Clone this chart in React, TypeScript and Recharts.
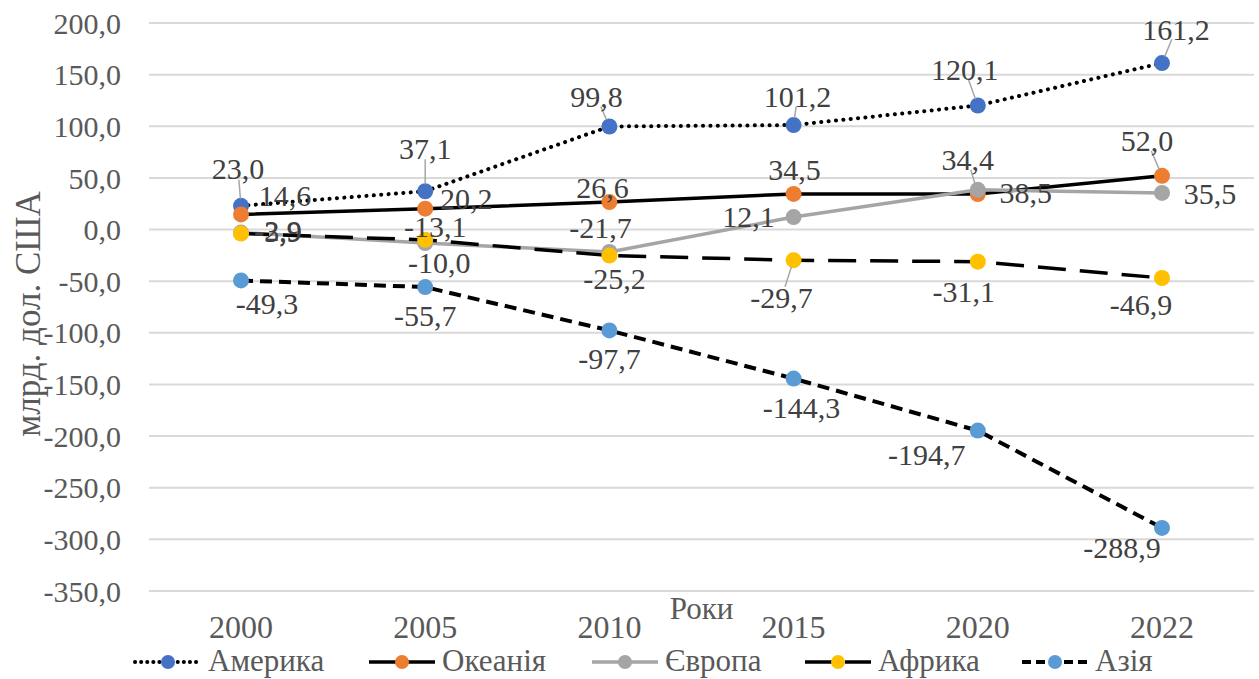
import { CartesianGrid, Label, LabelList, Legend, Line, LineChart, XAxis, YAxis } from 'recharts';

const years = ['2000', '2005', '2010', '2015', '2020', '2022'];
const america = [23.0, 37.1, 99.8, 101.2, 120.1, 161.2];
const oceania = [14.6, 20.2, 26.6, 34.5, 34.4, 52.0];
const europe = [-2.9, -13.1, -21.7, 12.1, 38.5, 35.5];
const africa = [-3.9, -10.0, -25.2, -29.7, -31.1, -46.9];
const asia = [-49.3, -55.7, -97.7, -144.3, -194.7, -288.9];
const yTicks = [200, 150, 100, 50, 0, -50, -100, -150, -200, -250, -300, -350];

const data = years.map((year, i) => ({
  year,
  america: america[i],
  oceania: oceania[i],
  europe: europe[i],
  africa: africa[i],
  asia: asia[i],
}));

const FONT = '"Liberation Serif", "Times New Roman", serif';
const fmt = (v: number) => v.toFixed(1).replace('.', ',');

// label offsets from the point (label centre), hand placed like in the source chart
const americaPos = [[-3, -37], [0, -43], [-13, -30], [4, -29], [-13, -36], [14, -34]];
const oceaniaPos = [[44, -19], [41, -10], [-7, -15], [1, -24], [-10, -35], [-15, -35]];
const europePos = [[37, -2], [10, -17], [-9, -24], [-45, -1], [48, 3], [48, 1]];
const africaPos = [[37, -2], [14, 23], [5, 23], [-12, 37], [-14, 30], [-21, 27]];
const asiaPos = [[26, 23], [0, 28], [0, 28], [8, 29], [-51, 24], [-40, 20]];

const makeLabel = (offsets: number[][], leaders: number[]) => (props: any) => {
  const { x, y, value, index } = props;
  const [dx, dy] = offsets[index];
  let leader = null;
  if (leaders.includes(index)) {
    const d = Math.hypot(dx, dy);
    const ux = dx / d;
    const uy = dy / d;
    leader = (
      <line x1={x + ux * 7} y1={y + uy * 7} x2={x + ux * (d - 11)} y2={y + uy * (d - 11)} stroke="#A6A6A6" strokeWidth={1.5} />
    );
  }
  return (
    <g>
      {leader}
      <text x={x + dx} y={y + dy} textAnchor="middle" dominantBaseline="central" style={{ fontFamily: FONT }} fontSize={30} fill="#404040">
        {fmt(value)}
      </text>
    </g>
  );
};

const series = [
  { key: 'america', name: 'Америка', color: '#4472C4', stroke: '#000', dash: '0.1 7.3', width: 4, cap: 'round', pos: americaPos, leaders: [0, 1, 2, 3, 4, 5] },
  { key: 'oceania', name: 'Океанія', color: '#ED7D31', stroke: '#000', dash: undefined, width: 3.5, cap: 'butt', pos: oceaniaPos, leaders: [4, 5] },
  { key: 'europe', name: 'Європа', color: '#A5A5A5', stroke: '#A5A5A5', dash: undefined, width: 3.5, cap: 'butt', pos: europePos, leaders: [] },
  { key: 'africa', name: 'Африка', color: '#FFC000', stroke: '#000', dash: '28 14', width: 3.5, cap: 'butt', pos: africaPos, leaders: [3] },
  { key: 'asia', name: 'Азія', color: '#5B9BD5', stroke: '#000', dash: '12 7', width: 4, cap: 'butt', pos: asiaPos, leaders: [] },
];

const legendDash: Record<string, string | undefined> = {
  america: '0.1 6',
  oceania: undefined,
  europe: undefined,
  africa: '30 10',
  asia: '9 5',
};
const legendLeft = [133, 367, 590, 803, 1020];

function LegendRow() {
  return (
    <div style={{ position: 'relative', height: 40, width: 1259, fontFamily: FONT, fontSize: 31, color: '#595959' }}>
      {series.map((s, i) => (
        <div key={s.key} style={{ position: 'absolute', left: legendLeft[i], top: 4, display: 'flex', alignItems: 'center', height: 36 }}>
          <svg width={70} height={36}>
            <line x1={2} y1={19} x2={68} y2={19} stroke={s.stroke} strokeWidth={s.width} strokeDasharray={legendDash[s.key]} strokeLinecap={s.cap as any} />
            <circle cx={35} cy={19} r={7} fill={s.color} />
          </svg>
          <span style={{ marginLeft: 5, lineHeight: '36px', whiteSpace: 'nowrap' }}>{s.name}</span>
        </div>
      ))}
    </div>
  );
}

const YTitle = () => (
  <text x={28} y={314} transform="rotate(-90, 28, 314)" textAnchor="middle" dominantBaseline="central" style={{ fontFamily: FONT }} fontSize={35} fill="#595959">
    млрд. дол. США
  </text>
);

export default function App() {
  return (
    <div style={{ width: 1259, height: 679, background: '#fff' }}>
      <style>{`body{margin:0;background:#fff} .recharts-wrapper text{font-family:${FONT}}`}</style>
      <LineChart width={1259} height={679} data={data} margin={{ top: 23, right: 5, bottom: 0, left: 0 }}>
        <CartesianGrid vertical={false} stroke="#D9D9D9" strokeWidth={2} />
        <XAxis
          dataKey="year"
          padding={{ left: 92, right: 92 }}
          axisLine={false}
          tickLine={false}
          tickSize={0}
          tickMargin={24}
          height={48}
          tick={{ fill: '#595959', fontSize: 32 }}
        >
          <Label value="Роки" position="insideTop" offset={6} fill="#595959" fontSize={31} />
        </XAxis>
        <YAxis
          width={149}
          domain={[-350, 200]}
          ticks={yTicks}
          interval={0}
          axisLine={false}
          tickLine={false}
          tickSize={0}
          tickMargin={28}
          tickFormatter={fmt}
          tick={{ fill: '#595959', fontSize: 30 }}
        >
          <Label content={YTitle} />
        </YAxis>
        <Legend verticalAlign="bottom" content={() => <LegendRow />} wrapperStyle={{ left: 0, bottom: 0, width: 1259, height: 40 }} />
        {series.map((s) => (
          <Line
            key={s.key}
            dataKey={s.key}
            name={s.name}
            type="linear"
            stroke={s.stroke}
            strokeWidth={s.width}
            strokeDasharray={s.dash}
            strokeLinecap={s.cap as any}
            dot={{ r: 8, fill: s.color, stroke: 'none', strokeWidth: 0 }}
            activeDot={false}
            isAnimationActive={false}
          >
            <LabelList dataKey={s.key} content={makeLabel(s.pos, s.leaders)} />
          </Line>
        ))}
      </LineChart>
    </div>
  );
}
